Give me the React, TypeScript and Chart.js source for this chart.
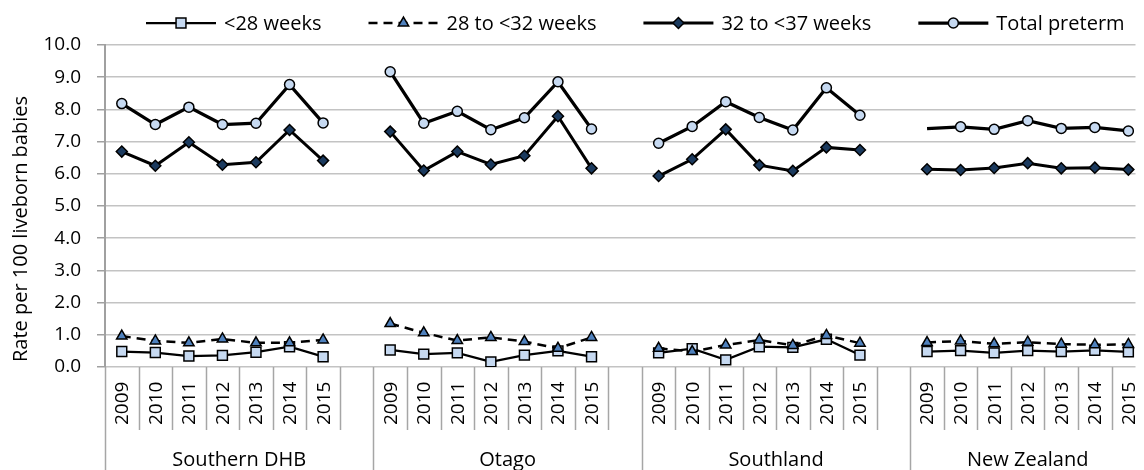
import React, { useEffect, useRef } from 'react';
import { Chart, registerables } from 'chart.js';

Chart.register(...registerables);

const FONT = '"Open Sans", "Noto Sans", sans-serif';

const groups = ['Southern DHB', 'Otago', 'Southland', 'New Zealand'];
const years = ['2009', '2010', '2011', '2012', '2013', '2014', '2015'];
const yTicks = [0, 1, 2, 3, 4, 5, 6, 7, 8, 9, 10];

// values per series, groups in order above, 7 years each
const under28 = [
  0.48, 0.45, 0.34, 0.36, 0.46, 0.63, 0.32,
  0.53, 0.40, 0.44, 0.16, 0.37, 0.50, 0.32,
  0.44, 0.57, 0.22, 0.63, 0.61, 0.86, 0.37,
  0.48, 0.51, 0.44, 0.51, 0.48, 0.52, 0.47,
];
const w28to32 = [
  0.96, 0.81, 0.75, 0.87, 0.75, 0.75, 0.84,
  1.35, 1.06, 0.82, 0.92, 0.79, 0.58, 0.92,
  0.58, 0.48, 0.68, 0.84, 0.67, 0.98, 0.74,
  0.76, 0.81, 0.72, 0.77, 0.71, 0.69, 0.70,
];
const w32to37 = [
  6.69, 6.25, 6.98, 6.28, 6.36, 7.36, 6.41,
  7.31, 6.10, 6.69, 6.29, 6.56, 7.79, 6.17,
  5.93, 6.45, 7.38, 6.27, 6.09, 6.82, 6.74,
  6.14, 6.12, 6.18, 6.33, 6.17, 6.19, 6.13,
];
const totalPreterm = [
  8.18, 7.53, 8.07, 7.53, 7.57, 8.77, 7.58,
  9.17, 7.57, 7.94, 7.37, 7.74, 8.86, 7.39,
  6.95, 7.47, 8.24, 7.75, 7.36, 8.67, 7.82,
  7.40, 7.46, 7.38, 7.65, 7.41, 7.44, 7.33,
];
// New Zealand 2009 total preterm point is drawn without a marker in the source
const totalHiddenMarkerIndex = 21;

type Slot = { blank: boolean; group: number; year: number; k: number };

function buildSlots(): Slot[] {
  const slots: Slot[] = [];
  groups.forEach((_, gi) => {
    years.forEach((_, yi) => slots.push({ blank: false, group: gi, year: yi, k: gi * years.length + yi }));
    if (gi < groups.length - 1) slots.push({ blank: true, group: gi, year: -1, k: -1 });
  });
  return slots;
}

const SLOTS = buildSlots();

function toPoints(series: number[]) {
  return SLOTS.map((s, i) => ({ x: i, y: s.blank ? null : series[s.k] }));
}

type MarkerStyle = 'rect' | 'triangle' | 'rectRot' | 'circle';

function drawMarker(ctx: CanvasRenderingContext2D, style: MarkerStyle, x: number, y: number, r: number, fill: string) {
  ctx.save();
  ctx.setLineDash([]);
  ctx.beginPath();
  if (style === 'rect') {
    const s = Math.SQRT1_2 * r;
    ctx.rect(x - s, y - s, 2 * s, 2 * s);
  } else if (style === 'triangle') {
    let rad = 0;
    ctx.moveTo(x + Math.sin(rad) * r, y - Math.cos(rad) * r);
    rad += (2 * Math.PI) / 3;
    ctx.lineTo(x + Math.sin(rad) * r, y - Math.cos(rad) * r);
    rad += (2 * Math.PI) / 3;
    ctx.lineTo(x + Math.sin(rad) * r, y - Math.cos(rad) * r);
    ctx.closePath();
  } else if (style === 'rectRot') {
    ctx.moveTo(x - r, y);
    ctx.lineTo(x, y - r);
    ctx.lineTo(x + r, y);
    ctx.lineTo(x, y + r);
    ctx.closePath();
  } else {
    ctx.arc(x, y, r, 0, Math.PI * 2);
  }
  ctx.fillStyle = fill;
  ctx.fill();
  ctx.lineWidth = 1.5;
  ctx.strokeStyle = '#000';
  ctx.stroke();
  ctx.restore();
}

const seriesStyles = [
  { label: '<28 weeks', data: under28, style: 'rect' as MarkerStyle, radius: 7, fill: '#C6D9F1', width: 2.25, dash: [] as number[] },
  { label: '28 to <32 weeks', data: w28to32, style: 'triangle' as MarkerStyle, radius: 6, fill: '#4F81BD', width: 2.5, dash: [9, 6] },
  { label: '32 to <37 weeks', data: w32to37, style: 'rectRot' as MarkerStyle, radius: 5.5, fill: '#1B3A5E', width: 3, dash: [] as number[] },
  { label: 'Total preterm', data: totalPreterm, style: 'circle' as MarkerStyle, radius: 5, fill: '#C6D9F1', width: 3.25, dash: [] as number[] },
];

const decorPlugin = {
  id: 'decor',
  afterDraw(chart: any) {
    const ctx: CanvasRenderingContext2D = chart.ctx;
    const xs = chart.scales.x;
    const area = chart.chartArea;
    const H = chart.height;
    ctx.save();

    // category separators
    ctx.strokeStyle = '#A6A6A6';
    ctx.lineWidth = 1.5;
    let start = 0;
    const bounds: { s: number; e: number; g: number }[] = [];
    for (let i = 0; i <= SLOTS.length; i++) {
      const px = Math.round(xs.getPixelForValue(i - 0.5)) + 0.5;
      const isGroupStart = i === 0 || (i < SLOTS.length && SLOTS[i].group !== SLOTS[i - 1].group) || i === SLOTS.length;
      ctx.beginPath();
      ctx.moveTo(px, area.bottom);
      ctx.lineTo(px, isGroupStart ? H : area.bottom + 63);
      ctx.stroke();
      if (isGroupStart && i > 0) {
        bounds.push({ s: start, e: i, g: SLOTS[i - 1].group });
        start = i;
      }
    }

    // year labels
    ctx.fillStyle = '#000';
    ctx.font = `19px ${FONT}`;
    ctx.textAlign = 'left';
    ctx.textBaseline = 'middle';
    SLOTS.forEach((s, i) => {
      if (s.blank) return;
      const px = xs.getPixelForValue(i);
      ctx.save();
      ctx.translate(px + 1, area.bottom + 58);
      ctx.rotate(-Math.PI / 2);
      ctx.fillText(years[s.year], 0, 0);
      ctx.restore();
    });

    // group labels
    ctx.font = `20px ${FONT}`;
    ctx.textAlign = 'center';
    bounds.forEach((b) => {
      const c = (xs.getPixelForValue(b.s - 0.5) + xs.getPixelForValue(b.e - 0.5)) / 2;
      ctx.fillText(groups[b.g], c, area.bottom + 93);
    });

    // y-axis title
    ctx.save();
    ctx.translate(21, 229);
    ctx.rotate(-Math.PI / 2);
    ctx.textAlign = 'center';
    ctx.textBaseline = 'middle';
    ctx.fillText('Rate per 100 liveborn babies', 0, 0);
    ctx.restore();

    // legend
    const ly = 23;
    let lx = 146;
    ctx.font = `20px ${FONT}`;
    ctx.textAlign = 'left';
    ctx.textBaseline = 'middle';
    seriesStyles.forEach((s) => {
      const lineLen = 70;
      ctx.save();
      ctx.strokeStyle = '#000';
      ctx.lineWidth = s.width;
      ctx.setLineDash(s.dash);
      ctx.beginPath();
      ctx.moveTo(lx, ly);
      ctx.lineTo(lx + lineLen, ly);
      ctx.stroke();
      ctx.restore();
      drawMarker(ctx, s.style, lx + lineLen / 2, ly, s.radius, s.fill);
      ctx.fillStyle = '#000';
      const tx = lx + lineLen + 8;
      ctx.fillText(s.label, tx, ly + 1);
      lx = tx + ctx.measureText(s.label).width + 47;
    });

    ctx.restore();
  },
};

export default function App() {
  const ref = useRef<HTMLCanvasElement | null>(null);

  useEffect(() => {
    if (!ref.current) return;
    const slotWidth = 33.83;
    const plotLeft = 105;
    const xMax = -0.5 + (1144 - plotLeft) / slotWidth;

    const datasets = seriesStyles.map((s, idx) => ({
      label: s.label,
      data: toPoints(s.data),
      borderColor: '#000',
      borderWidth: s.width,
      borderDash: s.dash,
      pointStyle: s.style,
      pointRadius:
        s.label === 'Total preterm'
          ? (c: any) => (SLOTS[c.dataIndex] && SLOTS[c.dataIndex].k === totalHiddenMarkerIndex ? 0 : s.radius)
          : s.radius,
      pointBackgroundColor: s.fill,
      pointBorderColor: '#000',
      pointBorderWidth: 1.5,
      spanGaps: false,
      tension: 0,
      fill: false,
      order: seriesStyles.length - idx,
    }));

    const chart = new Chart(ref.current, {
      type: 'line',
      data: { datasets: datasets as any },
      options: {
        responsive: false,
        animation: false,
        events: [],
        layout: { padding: { top: 45, bottom: 103, left: 0, right: 0 } },
        plugins: {
          legend: { display: false },
          tooltip: { enabled: false },
          title: { display: false },
        },
        scales: {
          x: { type: 'linear', display: false, min: -0.5, max: xMax },
          y: {
            min: 0,
            max: 10,
            afterBuildTicks: (scale: any) => {
              scale.ticks = yTicks.map((v) => ({ value: v }));
            },
            afterFit: (scale: any) => {
              scale.width = plotLeft;
            },
            ticks: {
              callback: (v: any) => Number(v).toFixed(1),
              font: { family: FONT, size: 19 },
              color: '#000',
              padding: 16,
            },
            grid: { color: '#C3C3C3', lineWidth: 1.5, tickLength: 8, tickColor: '#A0A0A0' },
            border: { color: '#A0A0A0', width: 2 },
          },
        },
      },
      plugins: [decorPlugin],
    });
    return () => chart.destroy();
  }, []);

  return (
    <div style={{ position: 'fixed', left: 0, top: 0, width: 1144, height: 470, background: '#fff' }}>
      <canvas ref={ref} width={1144} height={470} style={{ display: 'block' }} />
    </div>
  );
}
